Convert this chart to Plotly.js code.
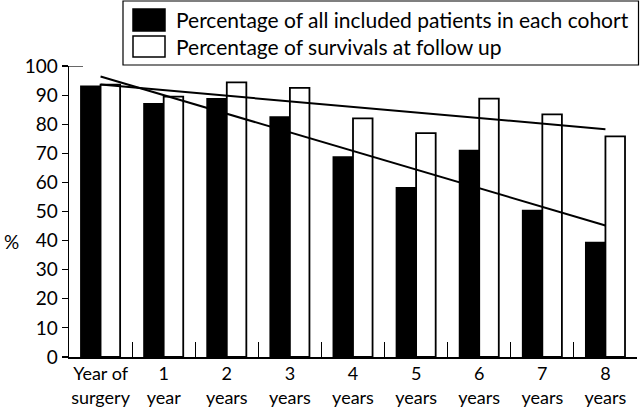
<!DOCTYPE html>
<html>
<head>
<meta charset="utf-8">
<script src="https://cdn.plot.ly/plotly-3.0.1.min.js"></script>
<style>
html,body{margin:0;padding:0;background:#fff;}
#chart{width:640px;height:407px;}
</style>
</head>
<body>
<div id="chart"></div>
<script>
// ---- data ----
var categories = ["Year of<br>surgery", "1<br>year", "2<br>years", "3<br>years", "4<br>years",
                  "5<br>years", "6<br>years", "7<br>years", "8<br>years"];
var includedPct = [93, 87, 88.7, 82.4, 68.7, 58.1, 70.9, 50.3, 39.3];
var survivalPct = [93.6, 89.5, 94.4, 92.5, 82.0, 76.9, 88.8, 83.4, 75.8];
var trendX = [categories[0], categories[8]];
var includedTrend = [96.4, 45.2];
var survivalTrend = [93.6, 78.3];
var legendLabels = ["Percentage of all included patients in each cohort",
                    "Percentage of survivals at follow up"];
var yTicks = [0, 10, 20, 30, 40, 50, 60, 70, 80, 90, 100];

// ---- layout geometry (pixels) ----
var W = 640, H = 407;
var L = 69, R = 637, T = 66, B = 357;
function px(x) { return (x - L) / (R - L); }
function py(y) { return (B - y) / (B - T); }

var FONT = "Lato, 'DejaVu Sans', sans-serif";

var traces = [
  { type: "bar", x: categories, y: includedPct, name: legendLabels[0],
    marker: { color: "#000", line: { color: "#000", width: 1.8 } }, showlegend: false },
  { type: "bar", x: categories, y: survivalPct, name: legendLabels[1],
    marker: { color: "#fff", line: { color: "#000", width: 1.8 } }, showlegend: false },
  { type: "scatter", mode: "lines", x: trendX, y: includedTrend,
    line: { color: "#000", width: 2 }, showlegend: false, hoverinfo: "skip" },
  { type: "scatter", mode: "lines", x: trendX, y: survivalTrend,
    line: { color: "#000", width: 2 }, showlegend: false, hoverinfo: "skip" }
];

var layout = {
  width: W, height: H,
  margin: { l: L, r: W - R, t: T, b: H - B, pad: 0 },
  paper_bgcolor: "#fff", plot_bgcolor: "#fff",
  font: { family: FONT, size: 18, color: "#000" },
  barmode: "group", bargap: 0.38, bargroupgap: 0,
  xaxis: {
    type: "category", range: [-0.5, 8.5], tickangle: 0,
    showline: true, linecolor: "#000", linewidth: 1.5,
    ticks: "inside", tickson: "boundaries", ticklen: 15, tickwidth: 1.2, tickcolor: "#000",
    showgrid: false, zeroline: false,
    tickfont: { family: FONT, size: 18, color: "#000" }
  },
  yaxis: {
    range: [0, 100], tickvals: yTicks, ticktext: yTicks.map(String),
    showline: true, linecolor: "#000", linewidth: 1.5,
    ticks: "outside", ticklen: 6, tickwidth: 1.2, tickcolor: "#000",
    showgrid: false, zeroline: false,
    tickfont: { family: FONT, size: 19, color: "#000" }
  },
  shapes: [
    // cap at the top of the y axis
    { type: "line", xref: "paper", yref: "y", x0: 0, x1: px(83), y0: 100, y1: 100,
      line: { color: "#000", width: 1.2 } },
    // legend box
    { type: "rect", xref: "paper", yref: "paper", x0: px(123), x1: px(638.5), y0: py(65), y1: py(1),
      line: { color: "#000", width: 1.2 }, fillcolor: "rgba(0,0,0,0)" },
    { type: "rect", xref: "paper", yref: "paper", x0: px(133), x1: px(165), y0: py(31), y1: py(9),
      line: { color: "#000", width: 1.5 }, fillcolor: "#000" },
    { type: "rect", xref: "paper", yref: "paper", x0: px(133), x1: px(165), y0: py(57), y1: py(36),
      line: { color: "#000", width: 1.5 }, fillcolor: "#fff" }
  ],
  annotations: [
    { xref: "paper", yref: "paper", x: px(174), y: py(20), xanchor: "left", yanchor: "middle",
      text: legendLabels[0], showarrow: false, font: { family: FONT, size: 21, color: "#000" } },
    { xref: "paper", yref: "paper", x: px(174), y: py(46), xanchor: "left", yanchor: "middle",
      text: legendLabels[1], showarrow: false, font: { family: FONT, size: 21, color: "#000" } },
    { xref: "paper", yref: "paper", x: px(11), y: py(241), xanchor: "center", yanchor: "middle",
      text: "%", showarrow: false, font: { family: FONT, size: 19, color: "#000" } }
  ],
  hovermode: false
};

Plotly.newPlot("chart", traces, layout, { staticPlot: true, displayModeBar: false });
</script>
</body>
</html>
